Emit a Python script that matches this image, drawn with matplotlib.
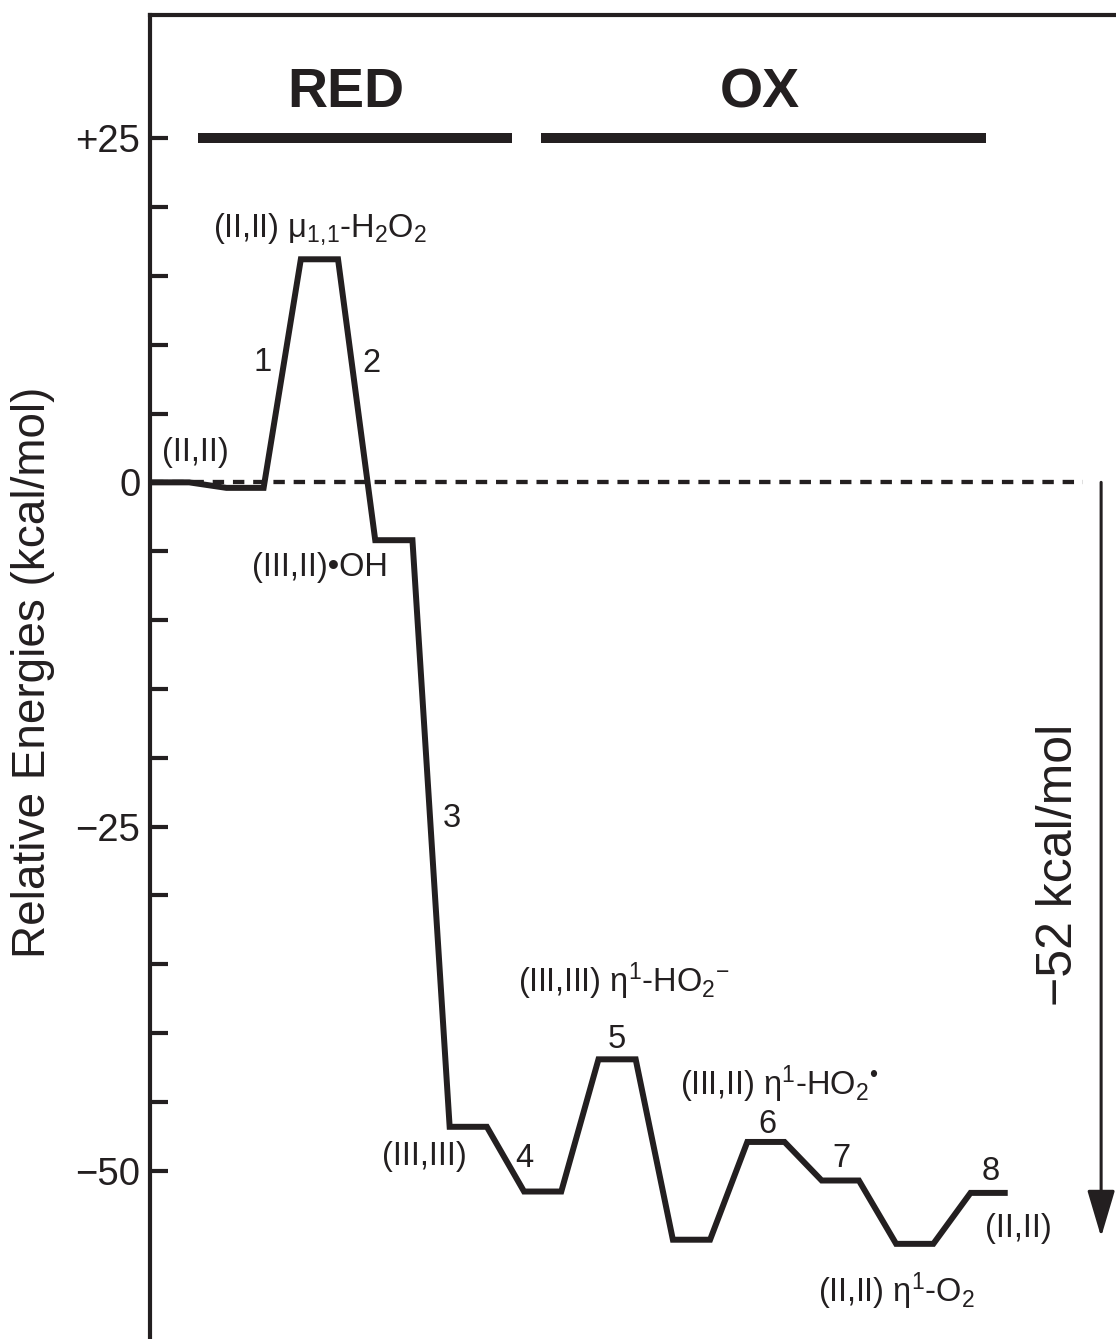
import matplotlib.pyplot as plt
import matplotlib as mpl
import numpy as np

# Energias relativas de cada estado (kcal/mol)
energias = [0.0, -0.4, 16.2, -4.2, -46.8, -51.5, -41.9, -55.0, -47.9, -50.7, -55.3, -51.6]
y_ticks = [-50, -45, -40, -35, -30, -25, -20, -15, -10, -5, 0, 5, 10, 15, 20, 25]
y_ticklabels = {25: '+25', 0: '0', -25: '\u221225', -50: '\u221250'}
etapas = ['1', '2', '3', '4', '5', '6', '7', '8']
delta_total = '\u221252 kcal/mol'

negro = '#231f20'
mpl.rc('font', family='Liberation Sans')
mpl.rcParams['mathtext.fontset'] = 'custom'
mpl.rcParams['mathtext.rm'] = 'Liberation Sans'
mpl.rcParams['mathtext.it'] = 'Liberation Sans'
mpl.rcParams['mathtext.bf'] = 'Liberation Sans:bold'

fig = plt.figure(figsize=(11.16, 13.39), dpi=100)
ax = fig.add_axes([150 / 1116, 0.0, 1 - 150 / 1116, 1 - 15 / 1339])

# Perfil: cada nivel ocupa una unidad, con una unidad de transicion entre niveles
xs, ys = [], []
for i, e in enumerate(energias):
    xs += [2 * i, 2 * i + 1]
    ys += [e, e]

ax.plot([0, 25.03], [0, 0], color=negro, lw=3.1, linestyle=(0, (2.65, 2.05)), zorder=1)
ax.plot(xs, ys, color=negro, lw=4.3, solid_joinstyle='miter', solid_capstyle='butt', zorder=2)

# Barras RED / OX
ax.plot([1.24, 9.68], [25, 25], color=negro, lw=7.2, solid_capstyle='butt')
ax.plot([10.46, 22.42], [25, 25], color=negro, lw=7.2, solid_capstyle='butt')
ax.text(5.22, 27.25, 'RED', fontsize=40, fontweight='bold', ha='center', va='baseline', color=negro)
ax.text(16.34, 27.25, 'OX', fontsize=40, fontweight='bold', ha='center', va='baseline', color=negro)

# Flecha de -52 kcal/mol
ax.annotate('', xy=(25.51, -54.8), xytext=(25.51, 0),
            arrowprops=dict(arrowstyle='-|>,head_length=1.45,head_width=0.43',
                            mutation_scale=20, lw=2.2, color=negro,
                            shrinkA=0, shrinkB=0))
ax.text(24.38, -27.76, delta_total, fontsize=36, rotation=90,
        ha='center', va='center', color=negro)

# Etiquetas de los estados
fs = 23.5
ax.text(1.64, 17.88, '(II,II) \u03bc$_{1{,}1}$-H$_2$O$_2$', fontsize=fs, va='baseline', color=negro)
ax.text(0.27, 1.53, '(II,II)', fontsize=fs, va='baseline', color=negro)
ax.text(2.69, -6.83, '(III,II)\u2022OH', fontsize=fs, va='baseline', color=negro)
ax.text(6.18, -49.56, '(III,III)', fontsize=fs, va='baseline', color=negro)
ax.text(9.84, -37.0, '(III,III) \u03b7$^1$-HO$_2$$^{-}$', fontsize=fs, va='baseline', color=negro)
ax.text(14.19, -44.5, '(III,II) \u03b7$^1$-HO$_2$$^{\u2022}$', fontsize=fs, va='baseline', color=negro)
ax.text(22.39, -54.8, '(II,II)', fontsize=fs, va='baseline', color=negro)
ax.text(17.9, -59.5, '(II,II) \u03b7$^1$-O$_2$', fontsize=fs, va='baseline', color=negro)

# Numeros de etapa
pos_etapas = [(2.96, 8.07), (5.91, 8.0), (8.06, -25.0), (10.0, -49.7),
              (12.5, -41.06), (16.53, -47.24), (18.52, -49.7), (22.55, -50.65)]
for txt, (x, y) in zip(etapas, pos_etapas):
    ax.text(x, y, txt, fontsize=fs, ha='center', va='baseline', color=negro)

# Ejes
ax.set_xlim(-0.054, 25.91)
ax.set_ylim(-62.21, 33.94)
ax.set_xticks([])
ax.set_yticks(y_ticks)
ax.set_yticklabels([y_ticklabels.get(t, '') for t in y_ticks])
ax.tick_params(axis='y', direction='in', length=13, width=3, pad=7,
               labelsize=27.5, colors=negro)
for lado in ['right', 'bottom']:
    ax.spines[lado].set_visible(False)
for lado in ['left', 'top']:
    ax.spines[lado].set_linewidth(3)
    ax.spines[lado].set_color(negro)

fig.text(33 / 1116, 1 - 672 / 1339, 'Relative Energies (kcal/mol)', fontsize=33,
         rotation=90, ha='center', va='center', color=negro)

plt.savefig('out.png', dpi=100)
